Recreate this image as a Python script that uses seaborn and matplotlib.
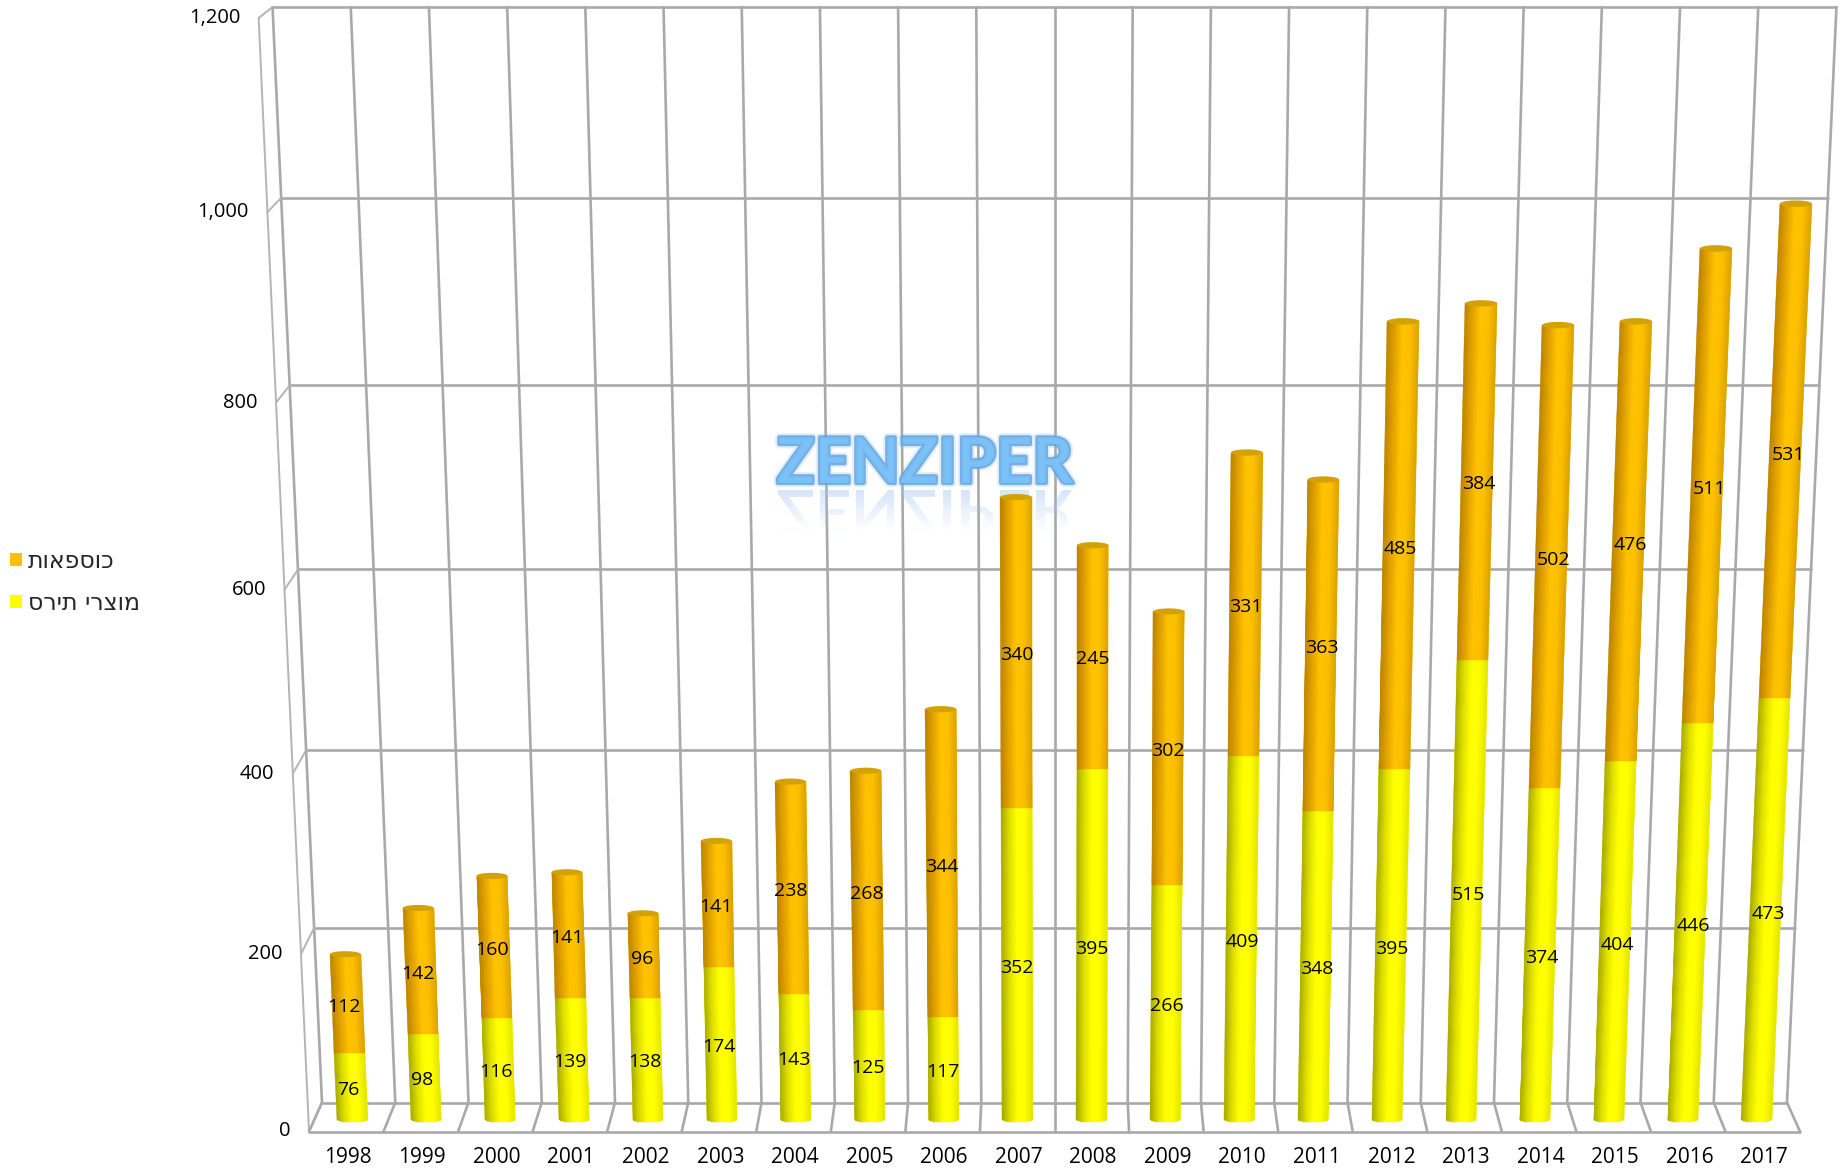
import numpy as np
import pandas as pd
import seaborn as sns
import matplotlib.pyplot as plt
import matplotlib.patheffects as pe
from matplotlib.colors import LinearSegmentedColormap
from matplotlib.font_manager import FontProperties
from matplotlib.patches import PathPatch
from matplotlib.textpath import TextPath
from matplotlib.transforms import Affine2D, IdentityTransform, Transform

years = list(range(1998, 2018))
corn = [76, 98, 116, 139, 138, 174, 143, 125, 117, 352, 395, 266, 409, 348, 395, 515, 374, 404, 446, 473]
extras = [112, 142, 160, 141, 96, 141, 238, 268, 344, 340, 245, 302, 331, 363, 485, 384, 502, 476, 511, 531]
value_ticks = [0, 200, 400, 600, 800, 1000, 1200]
corn_label = 'מוצרי תירס'
extras_label = 'כוספאות'
watermark = 'ZENZIPER'

W, H = 1845, 1169
FONT = 'Open Sans'


class Wall(Transform):
    # fake 3d: value axis gets foreshortened, columns fan out going up
    # plane -1 is the front edge of the floor, 0 the bars, 1 the back wall
    input_dims = 2
    output_dims = 2

    def __init__(self, plane=0.0):
        super().__init__()
        self.plane = plane

    def transform_non_affine(self, values):
        values = np.asarray(values, dtype=float)
        t = values[:, 1] / 1200
        warped = t * (1 - 0.0524) / (1 - 0.0524 * t)
        x = 2007.5 + (values[:, 0] - 2007.5) * (1 + 0.0675 * warped) * (1 - 0.0088 * self.plane)
        shift = (self.plane * (14.5 - 9 * warped) + abs(self.plane) * 2.5) * 1200 / 1104.5
        return np.column_stack([x, warped * 1200 + shift])


sns.set_theme(style='white')
plt.rcParams['font.family'] = [FONT, 'DejaVu Sans']

fig = plt.figure(figsize=(W / 100, H / 100), dpi=100)
ax = fig.add_axes([315.5 / W, (H - 1119.5) / H, 1478 / W, 1104.5 / H])

df = pd.DataFrame({'year': years, 'corn': corn, 'extras': extras})
sns.barplot(data=df, x='year', y='corn', color='#FFFF00', saturation=1, width=0.41, native_scale=True,
            errorbar=None, linewidth=0, label=corn_label[::-1], ax=ax)
sns.barplot(data=df, x='year', y='extras', bottom=df['corn'], color='#FFC000', saturation=1, width=0.41,
            native_scale=True, errorbar=None, linewidth=0, label=extras_label[::-1], ax=ax)
left, right = years[0] - 0.5, years[-1] + 0.5
ax.set_xlim(left, right)
ax.set_ylim(0, 1200)
ax.axis('off')

bar_plane = Wall(0) + ax.transData
label_plane = Wall(-0.5) + ax.transData
back = Wall(1) + ax.transData
front = Wall(-1) + ax.transData
bars = list(ax.patches)

# walls and floor
grid = dict(color='#a9a9a9', lw=1.9, clip_on=False, zorder=1, solid_capstyle='round')
thin = dict(color='#b4b4b4', lw=1.4, clip_on=False, zorder=1, solid_capstyle='round')
for v in value_ticks:
    ax.plot([left, right], [v, v], transform=back, **grid)
for edge in np.arange(left, right + 1):
    ax.plot([edge, edge], [0, 1200], transform=back, **grid)
ax.plot([left, left], [0, 1200], transform=front, **thin)
ax.plot([left, right], [0, 0], transform=front, **grid)

# the depth stubs need points from both planes, so go through display space
for v in value_ticks:
    a = back.transform([(left, v)])[0]
    b = front.transform([(left, v)])[0]
    ax.plot([a[0], b[0]], [a[1], b[1]], transform=IdentityTransform(), **thin)
for edge in np.arange(left, right + 1):
    a = back.transform([(edge, 0)])[0]
    b = front.transform([(edge, 0)])[0]
    ax.plot([a[0], b[0]], [a[1], b[1]], transform=IdentityTransform(), **grid)

# watermark with its reflection, sits between the grid and the bars
mark_x, mark_y = 925, 465
ax.text(mark_x / W, 1 - mark_y / H, watermark, transform=fig.transFigure, family='Lato', weight='bold',
        fontsize=45.5, color='#7CC2F6', alpha=0.9, ha='center', va='center', zorder=2,
        path_effects=[pe.withStroke(linewidth=6, foreground='#8FBDEE', alpha=0.25),
                      pe.withStroke(linewidth=3, foreground='#5E9FE2', alpha=0.8)])

mark_path = TextPath((0, 0), watermark, size=68, prop=FontProperties(family='Lato', weight='bold'))
box = mark_path.get_extents()
flip = (Affine2D().translate(-box.x0 - box.width / 2, 0).scale(294 / box.width, -0.9)
        .translate(mark_x, H - 490))
clip = PathPatch(mark_path, transform=flip, facecolor='none', edgecolor='none')
ax.add_patch(clip)
fade_y = np.linspace(H - 532, H - 490, 30)
fade = np.zeros((29, 1, 4))
fade[:, 0, :3] = [0.62, 0.76, 0.95]
fade[:, 0, 3] = np.linspace(0, 0.42, 29)
reflection = ax.pcolormesh([mark_x - 160, mark_x + 160], fade_y, fade, transform=IdentityTransform(), zorder=2)
reflection.set_clip_path(clip)

# cylinder shading over the flat bars from seaborn
cyl_corn = LinearSegmentedColormap.from_list('corn', ['#A9A900', '#DDDD00', '#FFFF00', '#FFFF00', '#E6E600'])
cyl_extras = LinearSegmentedColormap.from_list('extras', ['#BB8400', '#E2A200', '#FFC400', '#FCC000', '#DDA400'])
shade = np.linspace(0, 1, 40).reshape(1, -1)
arc = np.linspace(-1, 1, 41)
cap_v = 3.4
for n, bar in enumerate(bars):
    bar.set_transform(bar_plane)
    bar.set_clip_on(False)
    bar.set_zorder(3)
    x0, w = bar.get_x(), bar.get_width()
    y0, y1 = bar.get_y(), bar.get_y() + bar.get_height()
    is_corn = n < len(years)
    xs = x0 + w * (arc + 1) / 2
    low = y0 - cap_v * np.sqrt(1 - arc ** 2) if is_corn else np.full(41, y0)
    mesh = ax.pcolormesh(np.vstack([xs, xs]), np.vstack([low, np.full(41, y1)]), shade,
                         cmap=cyl_corn if is_corn else cyl_extras, transform=bar_plane,
                         shading='flat', zorder=3.1, clip_on=False,
                         antialiased=True, edgecolors='face', linewidth=0.3)
    if not is_corn:
        angle = np.linspace(0, 2 * np.pi, 60)
        ax.fill(x0 + w / 2 + w / 2 * np.cos(angle), y1 + cap_v * np.sin(angle), color='#D2A208',
                transform=bar_plane, zorder=3.2, clip_on=False, lw=0)

# value labels
label_style = dict(ha='center', va='center', fontsize=14, color='black', zorder=5,
                   textcoords='offset points', xytext=(0, 1.8), annotation_clip=False)
for i, year in enumerate(years):
    ax.annotate(str(corn[i]), (year, corn[i] / 2), xycoords=label_plane, **label_style)
    ax.annotate(str(extras[i]), (year, corn[i] + extras[i] / 2), xycoords=label_plane, **label_style)

# tick labels, placed on the front plane
for v in value_ticks:
    ax.annotate(f'{v:,}', (left, v), xycoords=front, xytext=(-13.4, 0), textcoords='offset points',
                ha='right', va='center', fontsize=14.5, color='black', annotation_clip=False)
for year in years:
    ax.annotate(str(year), (year, 0), xycoords=front, xytext=(1, -18.7), textcoords='offset points',
                ha='center', va='center', fontsize=15, color='black', annotation_clip=False)

handles, labels = ax.get_legend_handles_labels()
ax.legend(handles[::-1], labels[::-1], loc='upper left', bbox_to_anchor=(10 / W, 1 - 549 / H),
          bbox_transform=fig.transFigure, frameon=False, borderpad=0, borderaxespad=0,
          handlelength=0.51, handleheight=0.51, handletextpad=0.26, labelspacing=0.75,
          prop=FontProperties(family='DejaVu Sans', size=17))

fig.savefig('out.png', dpi=100, facecolor='white')
